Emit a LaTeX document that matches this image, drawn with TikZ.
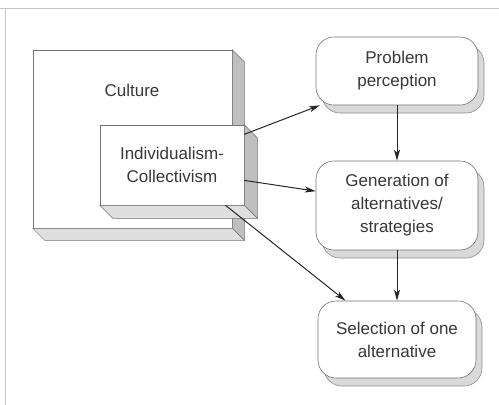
\documentclass[tikz,border=0pt]{standalone}
\usepackage{fontspec}
\setmainfont{Liberation Sans}
\usetikzlibrary{arrows.meta,calc,shadows}
\begin{document}
\begin{tikzpicture}[x=1pt,y=-1pt,
  box/.style={draw=black!55, line width=0.6pt, fill=white, inner sep=0pt},
  lbl/.style={font=\fontsize{17}{23}\selectfont, text=black!78, align=center},
  rbox/.style={box, lbl, rounded corners=18pt, minimum width=162pt,
    drop shadow={shadow xshift=6pt, shadow yshift=-8pt, fill=gray!30, opacity=1, draw=black!45}},
  sidedark/.style={fill=gray!50, draw=black!55, line width=0.5pt},
  sidelight/.style={fill=gray!25, draw=black!55, line width=0.5pt},
  arr/.style={-{Stealth[length=11pt,width=6pt,inset=3pt]}, line width=1pt, black!85},
  frameline/.style={draw=gray!45, line width=1pt}
]
\useasboundingbox (0,0) rectangle (499,405);
\draw[frameline] (0,8) -- (499,8) (5,8) -- (5,405);

% Culture box
\node[box, minimum width=199pt, minimum height=178pt] (cu) at (132.5,139) {};
\draw[sidedark] (cu.north east) -- ++(12,12) -- ($(cu.south east)+(12,12)$) -- (cu.south east) -- cycle;
\draw[sidelight] (cu.south west) -- (cu.south east) -- ++(12,12) -- ($(cu.south west)+(12,12)$) -- cycle;
\node[lbl] (cul) at (132,90) {Culture};

% Individualism-Collectivism box
\node[box, lbl, minimum width=144pt, minimum height=80pt] (ic) at (172,165) {Individualism-\\Collectivism};
\draw[sidedark] (ic.north east) -- ++(13,13) -- ($(ic.south east)+(13,13)$) -- (ic.south east) -- cycle;
\draw[sidelight] (ic.south west) -- (ic.south east) -- ++(13,13) -- ($(ic.south west)+(13,13)$) -- cycle;

% Right column
\node[rbox, minimum height=68pt] (pp) at (397,71) {Problem\\perception};
\node[rbox, minimum height=89pt] (gen) at (397,205.5) {Generation of\\alternatives/\\strategies};
\node[rbox, minimum width=158pt, minimum height=77pt] (sel) at (397,339.5) {Selection of one\\alternative};

% Arrows
\draw[arr] (ic.23) -- (pp.204);
\draw[arr] (ic.-12) -- (gen.170);
\draw[arr] (ic.-37) -- (sel.143);
\draw[arr] (pp.south) -- (gen.north);
\draw[arr] (gen.south) -- (sel.north);
\end{tikzpicture}
\end{document}
